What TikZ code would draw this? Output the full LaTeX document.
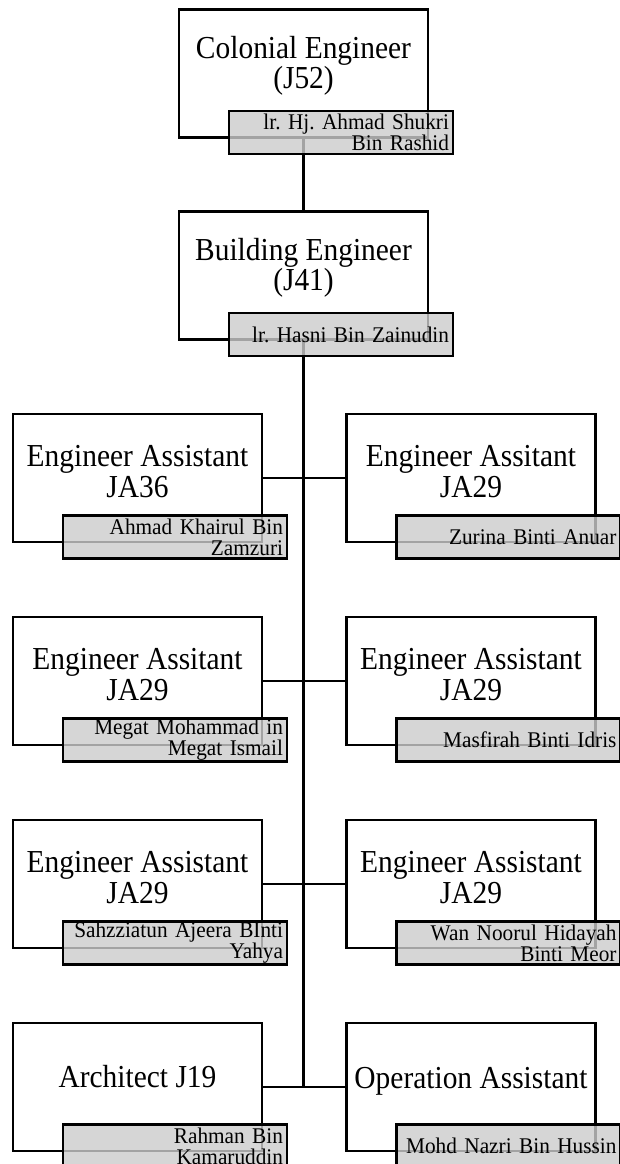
\documentclass[tikz,border=0pt]{standalone}
\usepackage{fontspec}
\setmainfont{Liberation Serif}
\newfontfamily\titlefont[FakeStretch=0.92]{Liberation Serif}
\newfontfamily\namefont[FakeStretch=0.95]{Liberation Serif}
\usetikzlibrary{positioning}
\frenchspacing

\begin{document}
\begin{tikzpicture}[x=1pt, y=-1pt,
  post/.style={draw, line width=2.5pt, fill=white, minimum width=249pt, minimum height=128pt, inner sep=0pt},
  title/.style={font=\titlefont\fontsize{32}{31.5}\selectfont, align=center, inner sep=0pt},
  headtitle/.style={title, font=\titlefont\fontsize{32}{27.5}\selectfont},
  namebox/.style={draw, line width=2.5pt, fill=black!20, fill opacity=0.8, text opacity=1,
    text width=216pt, align=right, minimum height=43pt, inner xsep=4pt, inner ysep=0pt,
    anchor=north west, font=\namefont\fontsize{22.4}{21}\selectfont},
  link/.style={line width=2pt},
  trunk/.style={line width=3.3pt}]

\useasboundingbox (0,0) rectangle (619,1164);

% boxes
\node[post] (colonial) at (303.5,73.5) {};
\node[post] (building) at (303.5,275.5) {};

\node[post] (ea36)   at (137.5,478)  {};
\node[post] (za29)   at (471,478)    {};
\node[post] (mm29)   at (137.5,681)  {};
\node[post] (mi29)   at (471,681)    {};
\node[post] (sa29)   at (137.5,884)  {};
\node[post] (wn29)   at (471,884)    {};
\node[post] (arch)   at (137.5,1087) {};
\node[post] (opasst) at (471,1087)   {};

% titles
\node[headtitle] (tcolonial) at ([yshift=7.5pt]colonial.center) {Colonial Engineer\\(J52)};
\node[headtitle] (tbuilding) at ([yshift=8pt]building.center)   {Building Engineer\\(J41)};
\node[title] (tea36)   at ([yshift=6.6pt]ea36.center)   {Engineer Assistant\\JA36};
\node[title] (tza29)   at ([yshift=6.6pt]za29.center)   {Engineer Assitant\\JA29};
\node[title] (tmm29)   at ([yshift=6.6pt]mm29.center)   {Engineer Assitant\\JA29};
\node[title] (tmi29)   at ([yshift=6.6pt]mi29.center)   {Engineer Assistant\\JA29};
\node[title] (tsa29)   at ([yshift=6.6pt]sa29.center)   {Engineer Assistant\\JA29};
\node[title] (twn29)   at ([yshift=6.6pt]wn29.center)   {Engineer Assistant\\JA29};
\node[title] (tarch)   at ([yshift=10pt]arch.center)    {Architect J19};
\node[title] (topasst) at ([yshift=6.2pt]opasst.center) {Operation Assistant};

%------------------------------------------------------
% lines
\draw[line width=2.5pt] (colonial.south) -- (building.north);
\draw[trunk] (building.south) -- (building.south |- arch.east);
\draw[link]  (ea36.east) -- (za29.west);
\draw[link]  (mm29.east) -- (mi29.west);
\draw[link]  (sa29.east) -- (wn29.west);
\draw[link]  (arch.east) -- (opasst.west);

% names
\node[namebox] (ncolonial) at ([xshift=50pt,yshift=29pt]colonial.south west) {lr. Hj. Ahmad Shukri\\Bin Rashid};
\node[namebox] (nbuilding) at ([xshift=50pt,yshift=29pt]building.south west) {lr. Hasni Bin Zainudin};
\node[namebox] (nea36)   at ([xshift=50pt,yshift=29pt]ea36.south west)   {Ahmad Khairul Bin\\Zamzuri};
\node[namebox] (nza29)   at ([xshift=50pt,yshift=29pt]za29.south west)   {Zurina Binti Anuar};
\node[namebox] (nmm29)   at ([xshift=50pt,yshift=29pt]mm29.south west)   {Megat Mohammad in\\Megat Ismail};
\node[namebox] (nmi29)   at ([xshift=50pt,yshift=29pt]mi29.south west)   {Masfirah Binti Idris};
\node[namebox] (nsa29)   at ([xshift=50pt,yshift=29pt]sa29.south west)   {Sahzziatun Ajeera BInti\\Yahya};
\node[namebox] (nwn29)   at ([xshift=50pt,yshift=29pt]wn29.south west)   {Wan Noorul Hidayah\\Binti Meor};
\node[namebox] (narch)   at ([xshift=50pt,yshift=29pt]arch.south west)   {Rahman Bin\\Kamaruddin};
\node[namebox] (nopasst) at ([xshift=50pt,yshift=29pt]opasst.south west) {Mohd Nazri Bin Hussin};

\end{tikzpicture}
\end{document}
